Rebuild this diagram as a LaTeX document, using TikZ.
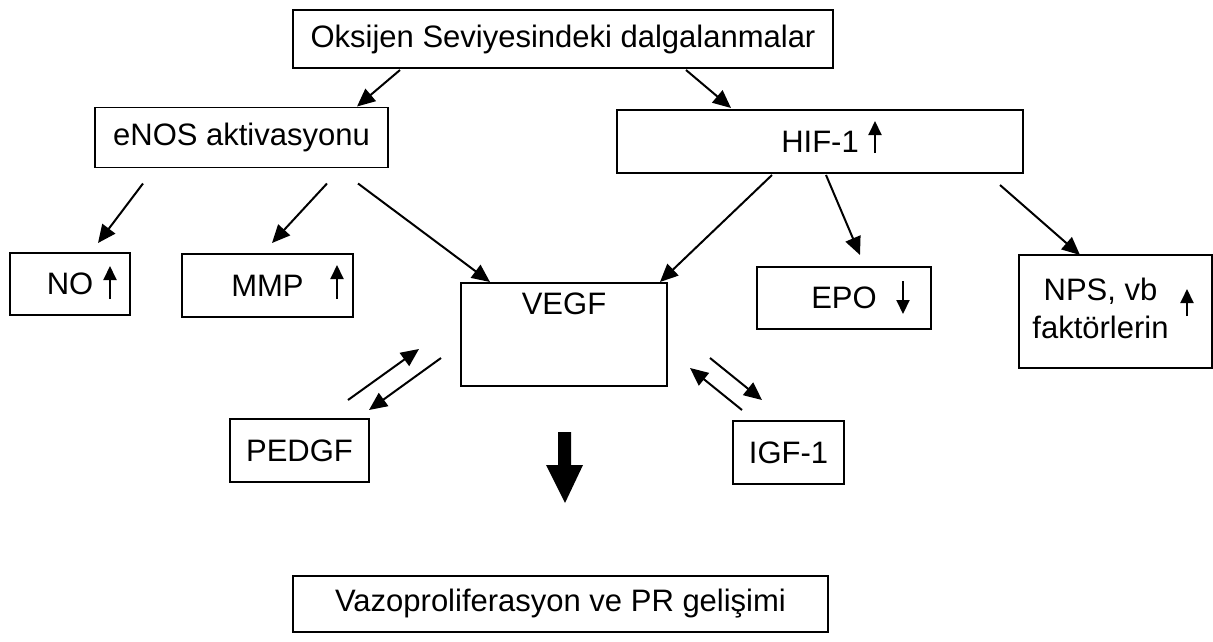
\documentclass[tikz,border=0pt]{standalone}
\usepackage{fontspec}
\setmainfont{Liberation Sans}
\usetikzlibrary{arrows.meta}
\tikzset{
    box/.style={draw=black, line width=1.7pt, fill=white, outer sep=0pt, inner sep=0pt, font=\fontsize{31}{38}\selectfont},
    arr/.style={draw=black, line width=2pt, -{Triangle[length=18pt,width=16pt]}},
    tinyarr/.style={draw=black, line width=2pt, -{Triangle[length=14pt,width=13pt]}}
}

\begin{document}
\begin{tikzpicture}[x=1pt,y=-1pt]
    \useasboundingbox (0,0) rectangle (1213,641);
    \node[box, minimum width=540pt, minimum height=58pt] (top) at (563,39) {Oksijen Seviyesindeki dalgalanmalar};
    \node[box, minimum width=293pt, minimum height=60pt] (enos) at (241.5,137.5) {eNOS aktivasyonu};
    \node[box, minimum width=406pt, minimum height=63pt] (hif) at (820,141.5) {HIF-1};
    \node[box, minimum width=120pt, minimum height=62pt] (no) at (70,284) {NO};
    \node[box, minimum width=171pt, minimum height=63pt] (mmp) at (267.5,285.5) {MMP};
    \node[box, minimum width=206pt, text height=21pt, text depth=62pt, inner ysep=10pt] (vegf) at (564,334.5) {VEGF};
    \node[box, minimum width=174pt, minimum height=62pt] (epo) at (844,298) {EPO};
    \node[box, minimum width=193pt, minimum height=113pt] (nps) at (1115.5,311.5) {\begin{tabular}{@{}c@{}}NPS, vb\\faktörlerin\end{tabular}\hspace*{30pt}};
    \node[box, minimum width=139pt, minimum height=63pt] (pedgf) at (299.5,450.5) {PEDGF};
    \node[box, minimum width=111pt, minimum height=63pt] (igf) at (788.5,452.5) {IGF-1};
    \node[box, minimum width=535pt, minimum height=56pt] (vazo) at (560.5,604) {Vazoproliferasyon ve PR gelişimi};

    \draw[tinyarr] (110,299) -- (110,266);
    \draw[tinyarr] (337,299) -- (337,265);
    \draw[tinyarr] (875,153) -- (875,121);
    \draw[tinyarr] (903,281) -- (903,314);
    \draw[tinyarr] (1187,316) -- (1187,289);

    \draw[arr] ([xshift=107pt,yshift=-2pt]top.south west) -- ([xshift=262pt,yshift=1pt]enos.north west);
    \draw[arr] ([xshift=393pt,yshift=-2pt]top.south west) -- ([xshift=114pt,yshift=2pt]hif.north west);
    \draw[arr] ([xshift=48pt,yshift=-16pt]enos.south west) -- ([xshift=88pt,yshift=10pt]no.north west);
    \draw[arr] ([xshift=232pt,yshift=-16pt]enos.south west) -- ([xshift=90pt,yshift=11pt]mmp.north west);
    \draw[arr] ([xshift=263pt,yshift=-16pt]enos.south west) -- ([xshift=29pt,yshift=1pt]vegf.north west);
    \draw[arr] ([xshift=155pt,yshift=-2pt]hif.south west) -- ([xshift=-7pt,yshift=1pt]vegf.north east);
    \draw[arr] ([xshift=209pt,yshift=-2pt]hif.south west) -- ([xshift=103pt,yshift=12pt]epo.north west);
    \draw[arr] ([xshift=383pt,yshift=-12pt]hif.south west) -- ([xshift=61pt,yshift=0pt]nps.north west);
    \draw[arr] ([xshift=118pt,yshift=19pt]pedgf.north west) -- ([xshift=-42pt,yshift=37pt]vegf.south west);
    \draw[arr] ([xshift=-20pt,yshift=28pt]vegf.south west) -- ([xshift=0pt,yshift=9pt]pedgf.north east);
    \draw[arr] ([xshift=43pt,yshift=28pt]vegf.south east) -- ([xshift=29pt,yshift=21pt]igf.north west);
    \draw[arr] ([xshift=9pt,yshift=11pt]igf.north west) -- ([xshift=23pt,yshift=18pt]vegf.south east);

    \fill[black] (558,432) -- (571,432) -- (571,465) -- (583,465) -- (565,503) -- (546,465) -- (558,465) -- cycle;
\end{tikzpicture}
\end{document}
